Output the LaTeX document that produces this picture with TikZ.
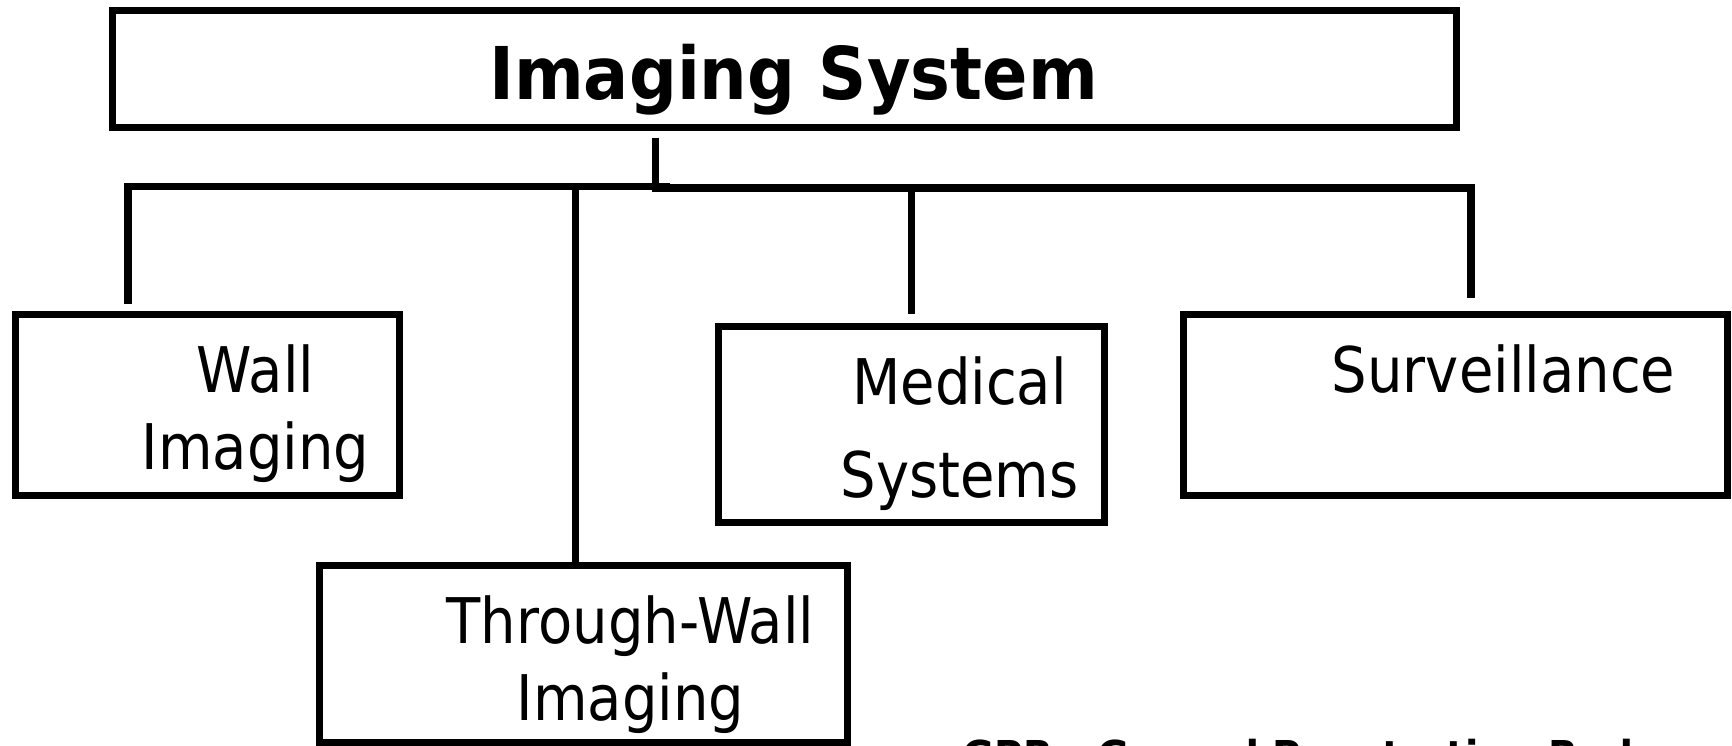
\documentclass[tikz,border=0pt]{standalone}
\usepackage{fontspec}
\setmainfont{DejaVu Sans}[FakeStretch=0.89]
\newfontfamily\headfont{DejaVu Sans}[FakeStretch=0.92]

\begin{document}
\begin{tikzpicture}[
    x=0.01cm, y=-0.01cm,
    box/.style={rectangle, draw, line width=0.072cm, inner sep=0pt},
    lbl/.style={inner sep=0pt, align=center, font=\fontsize{17.9pt}{21.9pt}\selectfont},
    head/.style={inner sep=0pt, font=\headfont\bfseries\fontsize{20.7pt}{24pt}\selectfont},
    note/.style={inner sep=0pt, font=\headfont\bfseries\fontsize{12.1pt}{14pt}\selectfont},
    link/.style={draw, line width=0.072cm}
]
\useasboundingbox (0,0) rectangle (1732,746);
\clip (0,0) rectangle (1732,746);

% Boxes
\node[box, minimum width=13.44cm, minimum height=1.17cm] (sys) at (784.5,69) {};
\node[box, minimum width=3.84cm, minimum height=1.81cm] (wall) at (207.5,405) {};
\node[box, minimum width=5.28cm, minimum height=1.77cm] (twi) at (583.5,654) {};
\node[box, minimum width=3.86cm, minimum height=1.96cm] (med) at (911.5,424.5) {};
\node[box, minimum width=5.44cm, minimum height=1.81cm] (surv) at (1455.5,405) {};

% Box texts
\node[head, anchor=base] (systxt) at ([xshift=0.09cm,yshift=-0.30cm]sys.center) {Imaging System};
\node[lbl, anchor=north] (walltxt) at ([xshift=0.48cm,yshift=-0.33cm]wall.north) {Wall\\Imaging};
\node[lbl, anchor=north] (twitxt) at ([xshift=0.47cm,yshift=-0.33cm]twi.north) {Through-Wall\\Imaging};
\node[lbl, anchor=north] (medtxt) at ([xshift=0.48cm,yshift=-0.33cm]med.north) {Medical\\[0.16cm]Systems};
\node[lbl, anchor=north] (survtxt) at ([xshift=0.48cm,yshift=-0.33cm]surv.north) {Surveillance};

% Bus
\coordinate (stub) at (655.5,138);
\coordinate (hub) at (655.5,188);
\coordinate (busW) at (128,186.5);
\coordinate (busE) at (670,186.5);
\coordinate (busS) at (1471,188);
\coordinate (tapT) at ([xshift=-0.08cm]twi.north);

% Connectors
\draw[link] ([yshift=0.07cm]wall.north -| busW) -- (busW) -- (busE);
\draw[link] (stub) -- (hub) -- (busS) -- ([yshift=0.13cm]surv.north -| busS);
\draw[link] (tapT |- busW) -- (tapT);
\draw[link] (med.north |- hub) -- ([yshift=0.09cm]med.north);

% Footnote (cut by the page edge)
\node[note, anchor=base west] (gpr) at (962,772) {GPR - Ground Penetrating Radar};

\end{tikzpicture}
\end{document}
